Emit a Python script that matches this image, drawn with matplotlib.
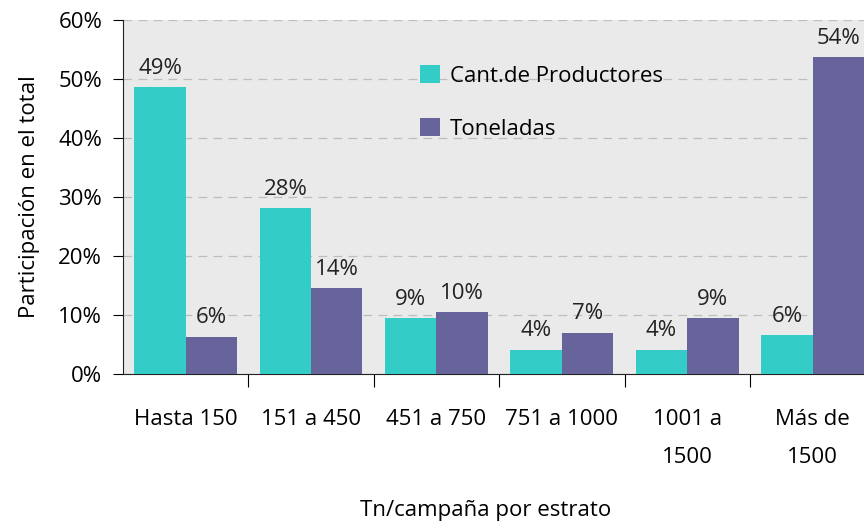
import numpy as np
import matplotlib.pyplot as plt
from matplotlib.ticker import FixedLocator, FuncFormatter

categories = ["Hasta 150", "151 a 450", "451 a 750", "751 a 1000", "1001 a\n1500", "Más de\n1500"]
productores = [48.6, 28.1, 9.5, 4.1, 4.1, 6.6]
toneladas = [6.3, 14.6, 10.5, 7.0, 9.5, 53.7]
prod_labels = ["49%", "28%", "9%", "4%", "4%", "6%"]
ton_labels = ["6%", "14%", "10%", "7%", "9%", "54%"]

plt.rcParams['font.family'] = ['Open Sans', 'DejaVu Sans']
fs = 16

fig = plt.figure(figsize=(8.64, 5.22), dpi=100)
ax = fig.add_axes([123 / 864, 1 - 374 / 522, 1 - 123 / 864, 354 / 522])

x = np.arange(len(categories))
w = 0.41
teal = '#33CCC6'
purple = '#67649C'
ax.set_facecolor('#EAEAEA')
b1 = ax.bar(x - w / 2, productores, w, color=teal, label='Cant.de Productores', zorder=3)
b2 = ax.bar(x + w / 2, toneladas, w, color=purple, label='Toneladas', zorder=3)

for bars, labs in [(b1, prod_labels), (b2, ton_labels)]:
    for rect, lab in zip(bars, labs):
        ax.annotate(lab, (rect.get_x() + rect.get_width() / 2, rect.get_height()),
                    xytext=(0, 6), textcoords='offset points',
                    ha='center', va='bottom', fontsize=fs, color='#222222')

ax.set_ylim(0, 60)
ax.set_xlim(-0.5, 5.41)
ax.set_yticks(np.arange(0, 61, 10))
ax.yaxis.set_major_formatter(FuncFormatter(lambda v, p: f"{v:.0f}%"))
ax.tick_params(axis='y', direction='out', length=7, labelsize=fs, pad=8)

# category boundaries as ticks, names at group centres
ax.xaxis.set_major_locator(FixedLocator(np.arange(0.5, 5, 1)))
ax.xaxis.set_minor_locator(FixedLocator(x))
ax.xaxis.set_major_formatter(FuncFormatter(lambda v, p: ""))
ax.set_xticklabels(categories, minor=True)
ax.tick_params(axis='x', which='major', direction='out', length=9)
ax.tick_params(axis='x', which='minor', length=0, labelsize=fs, pad=25)
for t in ax.xaxis.get_minorticklabels():
    t.set_linespacing(2.05)
    t.set_verticalalignment('top')

ax.grid(axis='y', linestyle=(0, (7, 5)), color='#BDBDBD', linewidth=0.9, zorder=0)
for s in ['top', 'right']:
    ax.spines[s].set_visible(False)
ax.spines['left'].set_color('#222222')
ax.spines['bottom'].set_color('#222222')

ax.set_ylabel('Participación en el total', fontsize=fs)
ax.yaxis.set_label_coords(-0.112, 0.5)
ax.set_xlabel('Tn/campaña por estrato', fontsize=fs)
ax.xaxis.set_label_coords(0.49, -0.355)

leg = ax.legend(loc='upper left', bbox_to_anchor=(0.374, 0.93), frameon=False,
                fontsize=fs, handlelength=0.9, handleheight=0.9, labelspacing=1.4,
                handletextpad=0.45)

fig.savefig('out.png', dpi=100)
